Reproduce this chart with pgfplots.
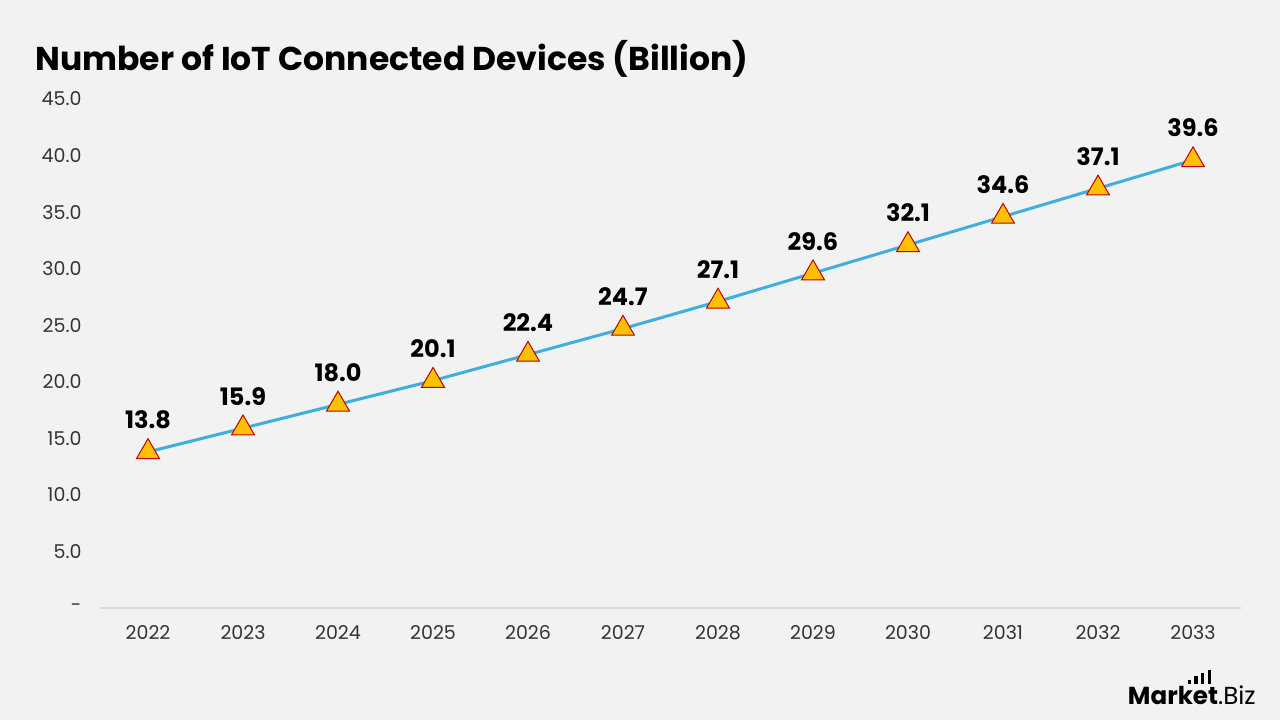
\documentclass[border=0pt]{standalone}
\usepackage{pgfplots}
\pgfplotsset{compat=1.18}
\usepackage{fontspec}
\setmainfont{Poppins}
\definecolor{bg}{HTML}{F2F2F2}
\definecolor{linec}{HTML}{41AEDF}
\definecolor{markf}{HTML}{FFC000}
\definecolor{marke}{HTML}{C00000}
\definecolor{axc}{HTML}{D9D9D9}
\definecolor{tickc}{HTML}{333333}
\begin{document}
\begin{tikzpicture}
\fill[bg] (0,0) rectangle (640pt,360pt);
\node[anchor=base west, inner sep=0pt, font=\fontsize{16.5}{20}\selectfont\bfseries] at (17.5pt,325pt) {Number of IoT Connected Devices (Billion)};
\begin{axis}[
  at={(50.25pt,56pt)}, anchor=south west,
  scale only axis, width=570pt, height=254.5pt,
  xmin=-0.5, xmax=11.5, ymin=0, ymax=45,
  xtick={0,...,11},
  xticklabels={2022,2023,2024,2025,2026,2027,2028,2029,2030,2031,2032,2033},
  ytick={0,5,...,45},
  yticklabels={-,5.0,10.0,15.0,20.0,25.0,30.0,35.0,40.0,45.0},
  axis x line*=bottom, axis y line*=left,
  x axis line style={draw=axc, line width=0.6pt},
  y axis line style={draw=none},
  tick style={draw=none},
  ticklabel style={font=\fontsize{9.5}{11}\selectfont, text=tickc},
  yticklabel style={xshift=-6pt},
  xticklabel style={yshift=-5pt},
  clip=false,
  /pgf/number format/.cd, fixed, fixed zerofill, precision=1, assume math mode=true,
]
\addplot[color=linec, line width=1.5pt,
  mark=triangle*, mark size=6.6pt,
  mark options={fill=markf, draw=marke, line width=0.5pt},
  nodes near coords,
  every node near coord/.append style={anchor=center, yshift=16pt, font=\fontsize{12}{14}\selectfont\bfseries, text=black}]
coordinates {
(0,13.8)(1,15.9)(2,18.0)(3,20.1)(4,22.4)(5,24.7)(6,27.1)(7,29.6)(8,32.1)(9,34.6)(10,37.1)(11,39.6)
};
\end{axis}
\node[anchor=base east, inner sep=0pt, font=\fontsize{12.3}{14}\selectfont] at (628pt,8pt) {\textbf{Market}.Biz};
\fill[black] (593.9pt,18pt) rectangle (595.5pt,20pt);
\fill[black] (597.2pt,18pt) rectangle (598.8pt,22pt);
\fill[black] (600.5pt,18pt) rectangle (602.1pt,23.7pt);
\fill[black] (603.8pt,18pt) rectangle (605.4pt,25pt);
\end{tikzpicture}
\end{document}
